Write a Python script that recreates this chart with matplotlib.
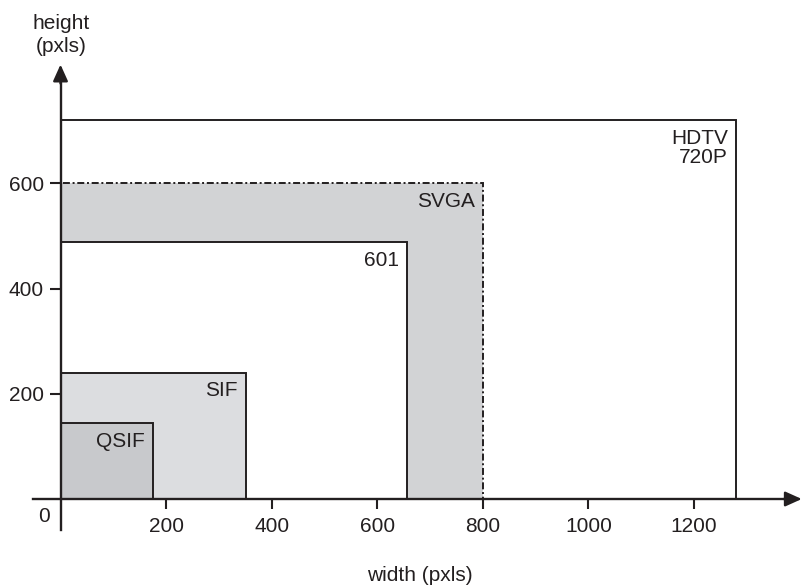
import matplotlib
matplotlib.use("Agg")
import matplotlib.pyplot as plt
from matplotlib.patches import Rectangle

plt.rcParams['font.family'] = ['Liberation Sans', 'DejaVu Sans']

# Picture formats: name, width (pxls), height (pxls)
formats = ["HDTV\n720P", "SVGA", "601", "SIF", "QSIF"]
widths = [1280, 800, 656, 352, 176]
heights = [720, 600, 488, 240, 144]
fills = ["white", "#d2d3d5", "white", "#dcdde0", "#c8c9cc"]
styles = ["solid", (0, (3.6, 1.4, 1, 1.4)), "solid", "solid", "solid"]

x_ticks = [200, 400, 600, 800, 1000, 1200]
y_ticks = [200, 400, 600]

ink = "#231f20"

fig = plt.figure(figsize=(8.02, 5.85), dpi=100)
ax = fig.add_axes([0, 0, 1, 1])
ax.set_xlim(-114.6, 1404.4)
ax.set_ylim(-163.5, 948.7)

for name, w, h, fc, ls in zip(formats, widths, heights, fills, styles):
    ax.add_patch(Rectangle((0, 0), w, h, facecolor=fc, edgecolor=ink,
                           linewidth=1.4, linestyle=ls, zorder=2))
    ax.annotate(name, xy=(w, h), xytext=(-6, -6), textcoords="offset points",
                ha="right", va="top", fontsize=15, color=ink,
                linespacing=1.05, zorder=3)

# axes as arrows through the origin
for side in ["top", "right"]:
    ax.spines[side].set_visible(False)
ax.spines["left"].set_position(("data", 0))
ax.spines["bottom"].set_position(("data", 0))
ax.spines["left"].set_bounds(-59, 800)
ax.spines["bottom"].set_bounds(-52, 1380)
for side in ["left", "bottom"]:
    ax.spines[side].set_linewidth(1.7)
    ax.spines[side].set_color(ink)
    ax.spines[side].set_zorder(4)

ax.set_xticks(x_ticks)
ax.set_yticks(y_ticks)
ax.tick_params(axis="x", direction="out", length=7.5, width=1.5, pad=5.5,
               labelsize=15, colors=ink)
ax.tick_params(axis="y", direction="out", length=8, width=1.5, pad=4,
               labelsize=15, colors=ink)

arrow = dict(arrowstyle="-|>,head_length=1.0,head_width=0.45",
             mutation_scale=10, color=ink, linewidth=1.7, shrinkA=0, shrinkB=0)
ax.annotate("", xy=(1404, 0), xytext=(1370, 0), arrowprops=arrow, zorder=5)
ax.annotate("", xy=(0, 826), xytext=(0, 790), arrowprops=arrow, zorder=5)

ax.text(-32, -34, "0", ha="center", va="center", fontsize=15, color=ink)
ax.text(680, -145, "width (pxls)", ha="center", va="center", fontsize=15,
        color=ink)
ax.text(1, 882, "height\n(pxls)", ha="center", va="center", fontsize=15,
        color=ink, linespacing=1.3)

fig.savefig("out.png", dpi=100)
